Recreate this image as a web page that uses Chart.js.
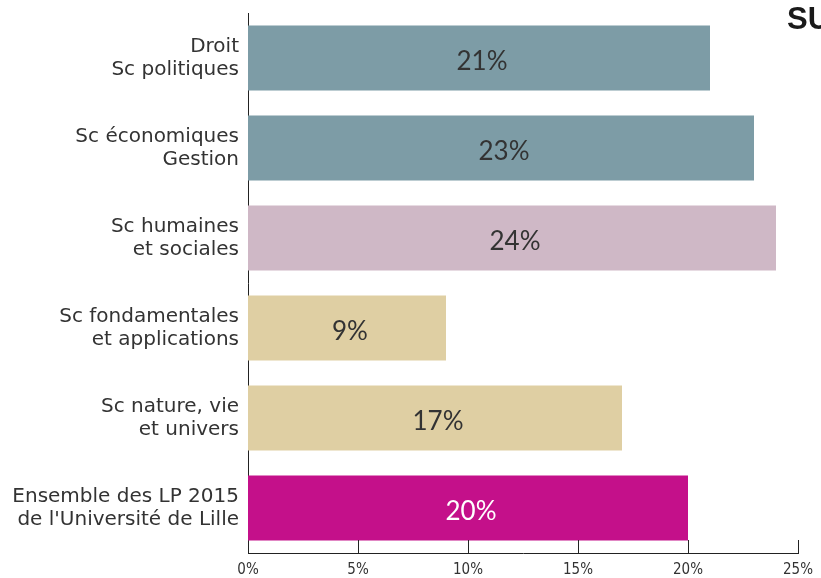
<!DOCTYPE html>
<html>
<head>
<meta charset="utf-8">
<script src="https://cdn.jsdelivr.net/npm/chart.js@4.4.1/dist/chart.umd.min.js"></script>
<style>
  html, body { margin: 0; padding: 0; background: #fff; }
  #wrap { position: relative; width: 821px; height: 578px; overflow: hidden; }
  #title { position: absolute; left: 787px; top: 1px; font: bold 31px "Liberation Sans", Arial, sans-serif; color: #1a1a1a; white-space: nowrap; }
</style>
</head>
<body>
<div id="wrap">
  <canvas id="myChart" width="821" height="578"></canvas>
  <div id="title">SU</div>
</div>
<script>
// Categories (two-line labels)
const categories = [
    ['Droit', 'Sc politiques'],
    ['Sc économiques', 'Gestion'],
    ['Sc humaines', 'et sociales'],
    ['Sc fondamentales', 'et applications'],
    ['Sc nature, vie', 'et univers'],
    ['Ensemble des LP 2015', "de l'Université de Lille"]
];

// Values in percent
const values = [21, 23, 24, 9, 17, 20];

// Bar colours
const barColors = ['#7d9ca6', '#7d9ca6', '#cfb8c6', '#dfcfa3', '#dfcfa3', '#c4108a'];
const valueColors = ['#333333', '#333333', '#333333', '#333333', '#333333', '#ffffff'];

// X axis ticks
const xTicks = [0, 5, 10, 15, 20, 25];

// Draws the tick marks pointing up into the chart area
const innerTicks = {
    id: 'innerTicks',
    afterDatasetsDraw(chart) {
        const ctx = chart.ctx;
        const x = chart.scales.x;
        const bottom = chart.chartArea.bottom;
        ctx.save();
        ctx.strokeStyle = '#222';
        ctx.lineWidth = 1;
        xTicks.forEach(v => {
            if (v === 0) return;
            const px = Math.round(x.getPixelForValue(v)) + 0.5;
            ctx.beginPath();
            ctx.moveTo(px, bottom);
            ctx.lineTo(px, bottom - 13);
            ctx.stroke();
        });
        ctx.restore();
    }
};

// Writes the value in the middle of each bar
const valueLabels = {
    id: 'valueLabels',
    afterDatasetsDraw(chart) {
        const ctx = chart.ctx;
        const meta = chart.getDatasetMeta(0);
        ctx.save();
        ctx.font = '26px Lato, sans-serif';
        ctx.textAlign = 'center';
        ctx.textBaseline = 'middle';
        meta.data.forEach((bar, i) => {
            ctx.fillStyle = valueColors[i];
            ctx.fillText(values[i] + '%', (bar.base + bar.x) / 2 + 3, bar.y + 4);
        });
        ctx.restore();
    }
};

function renderChart() {
    const chartConfig = {
        type: 'bar',
        data: {
            labels: categories,
            datasets: [{
                data: values,
                backgroundColor: barColors,
                borderWidth: 0,
                barPercentage: 0.722,
                categoryPercentage: 1
            }]
        },
        options: {
            indexAxis: 'y',
            responsive: false,
            animation: false,
            layout: { padding: { top: 13, right: 23, bottom: 0, left: 0 } },
            plugins: {
                legend: { display: false },
                tooltip: { enabled: false }
            },
            scales: {
                x: {
                    min: 0,
                    max: 25,
                    afterBuildTicks: scale => { scale.ticks = xTicks.map(v => ({ value: v })); },
                    afterFit: scale => { scale.height = 25; },
                    ticks: {
                        callback: v => v + '%',
                        font: { family: '"DejaVu Sans Condensed", "Liberation Sans Narrow", "Liberation Sans", sans-serif', size: 15 },
                        color: '#333',
                        padding: 8,
                        maxRotation: 0
                    },
                    grid: { display: false, drawTicks: false },
                    border: { display: true, color: '#222', width: 1 }
                },
                y: {
                    afterFit: scale => {
                        scale.width = 248;
                        scale.paddingTop = 0;
                        scale.paddingBottom = 0;
                    },
                    ticks: {
                        font: { family: '"DejaVu Sans", sans-serif', size: 20, lineHeight: 1.15 },
                        color: '#333',
                        padding: 9
                    },
                    grid: { display: false, drawTicks: false },
                    border: { display: true, color: '#222', width: 1 }
                }
            }
        },
        plugins: [innerTicks, valueLabels]
    };

    const ctx = document.getElementById('myChart').getContext('2d');
    new Chart(ctx, chartConfig);
}

renderChart();
</script>
</body>
</html>
